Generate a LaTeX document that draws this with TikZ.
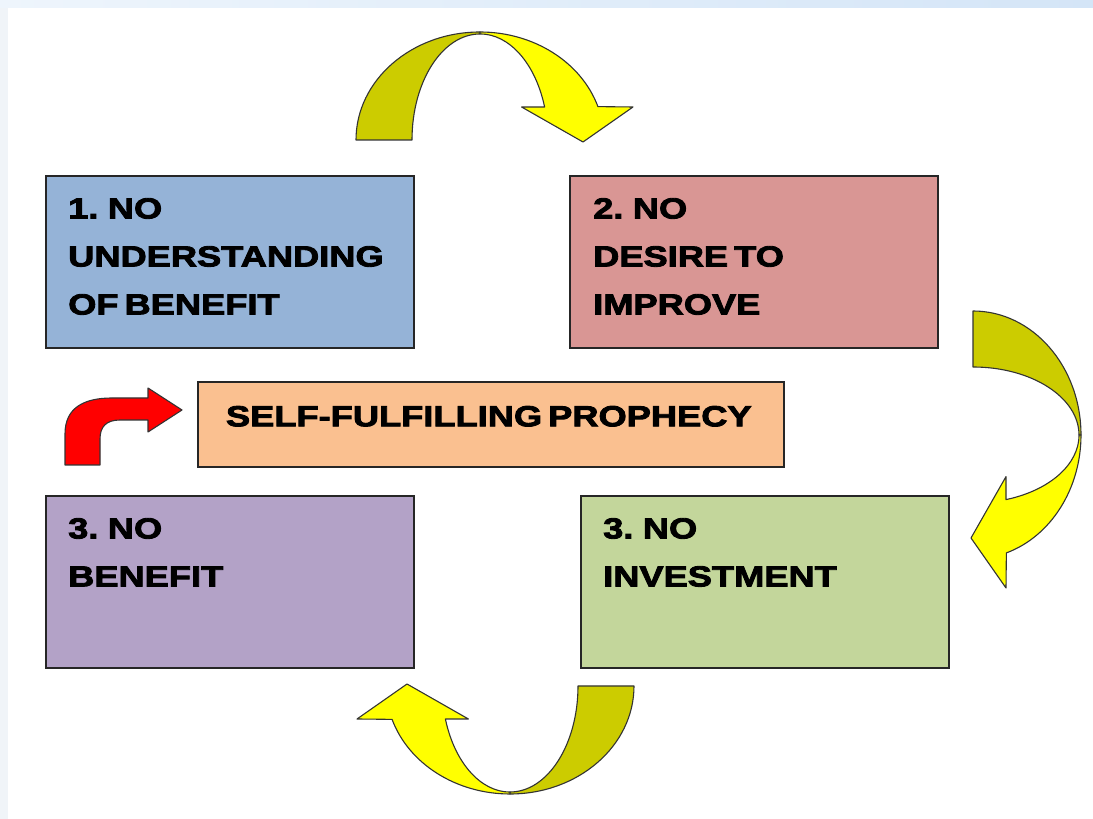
\documentclass[tikz,border=0pt]{standalone}
\usepackage{fontspec}
\newfontfamily\boxfont{Liberation Sans}[FakeStretch=1.25,WordSpace=0.6,BoldFeatures={FakeBold=3}]
\usetikzlibrary{calc, positioning}
\definecolor{understanding}{RGB}{149,179,215}
\definecolor{desire}{RGB}{217,150,148}
\definecolor{prophecy}{RGB}{250,192,144}
\definecolor{benefit}{RGB}{179,162,199}
\definecolor{investment}{RGB}{195,214,155}
\definecolor{ribbonback}{RGB}{204,204,0}
\definecolor{ribbonfront}{RGB}{255,255,0}
\definecolor{barleft}{RGB}{238,245,252}
\definecolor{barright}{RGB}{212,229,247}
\definecolor{sidebar}{RGB}{240,244,248}

\begin{document}
\begin{tikzpicture}[x=1pt, y=1pt]

% TikZ styles
\tikzset{
  stage/.style={rectangle, draw=black!85, line width=1.6pt, minimum width=368pt, minimum height=172pt, anchor=north west},
  boxtext/.style={font=\boxfont\bfseries\fontsize{29}{48}\selectfont, align=left, inner sep=0pt, anchor=north west},
  ribbondark/.style={draw=black!80, line width=1.1pt, fill=ribbonback, line join=round},
  ribbonlight/.style={draw=black!80, line width=1.1pt, fill=ribbonfront, line join=round},
  bendarrow/.style={draw=black!80, line width=1.1pt, fill=red, line join=round},
  ribbon/.pic={
    \draw[ribbondark] (-124,0) arc[start angle=180, end angle=90, x radius=124pt, y radius=108pt]
      -- (0,106) arc[start angle=90, end angle=180, x radius=68pt, y radius=106pt] -- cycle;
    \draw[ribbonlight] (0,108) arc[start angle=90, end angle=18, x radius=124pt, y radius=108pt]
      -- (153,33) -- (103,-2) -- (41.6,33) -- (64.6,33)
      arc[start angle=18.1, end angle=90, x radius=68pt, y radius=106pt] -- cycle;
  }
}

\useasboundingbox (0,0) rectangle (1093,819);
\fill[white] (0,0) rectangle (1093,819);
\shade[left color=barleft, right color=barright] (0,811) rectangle (1093,819);
\fill[sidebar] (0,0) rectangle (8,811);

%==========================
% Boxes
%==========================
\node[stage, fill=understanding] (understanding) at (45,644) {};
\node[stage, fill=desire]        (desire)        at (569,644) {};
\node[stage, fill=benefit]       (benefit)       at (45,324) {};
\node[stage, fill=investment]    (investment)    at (580,324) {};
\node[stage, fill=prophecy, minimum width=586pt, minimum height=85pt] (prophecy) at (197,438) {};

\node[boxtext] (understandingtext) at ($(understanding.north west)+(23,-23)$) {1. NO\\UNDERSTANDING\\OF BENEFIT};
\node[boxtext] (desiretext)        at ($(desire.north west)+(24,-23)$) {2. NO\\DESIRE TO\\IMPROVE};
\node[boxtext] (benefittext)       at ($(benefit.north west)+(23,-23)$) {3. NO\\BENEFIT};
\node[boxtext] (investmenttext)    at ($(investment.north west)+(23,-23)$) {3. NO\\INVESTMENT};
\node[boxtext, anchor=center] (prophecytext) at ($(prophecy.center)+(-2,8)$) {SELF-FULFILLING PROPHECY};

%==========================
% Arrows round the cycle
%==========================
\pic at (480,679) {ribbon};
\pic[rotate=-90] at (973,384) {ribbon};
\pic[rotate=180] at (510,133) {ribbon};

% red arrow into the middle box
\draw[bendarrow] (65,354) -- (65,385) .. controls (65,412) and (85,421) .. (112,421)
  -- (148,421) -- (148,431) -- (182,409) -- (148,387) -- (148,399) -- (120,399)
  .. controls (106,399) and (100,392) .. (100,380) -- (100,354) -- cycle;

\end{tikzpicture}
\end{document}
